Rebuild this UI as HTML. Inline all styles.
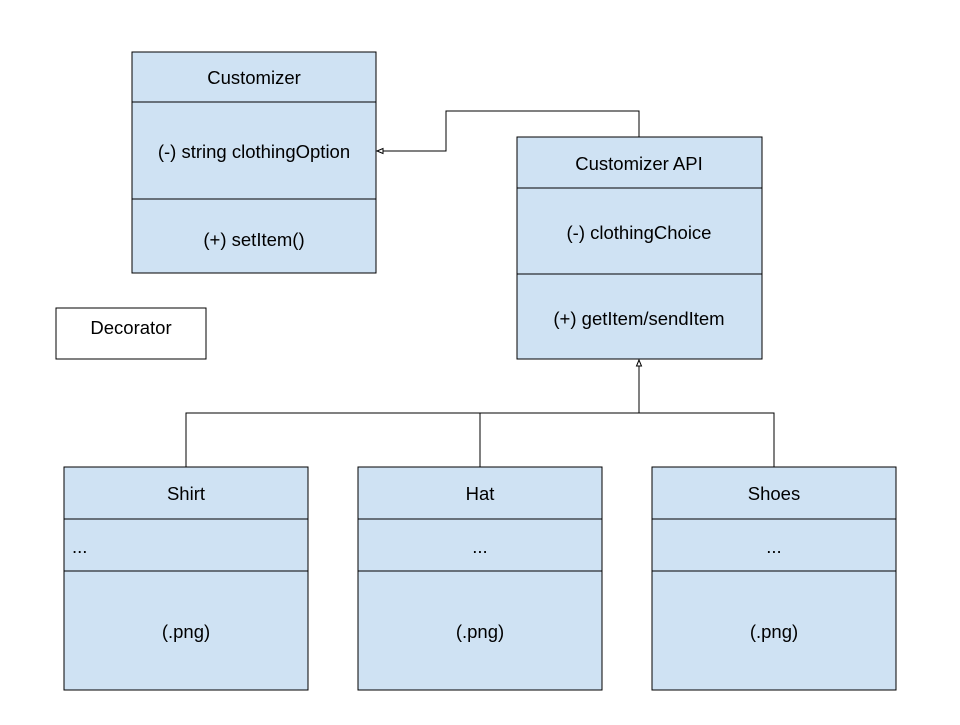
<!DOCTYPE html>
<html><head><style>body{margin:0;background:#fff}</style></head><body>
<svg width="960" height="720" xmlns="http://www.w3.org/2000/svg" font-family="Liberation Sans, Arial, sans-serif" font-size="18.5" fill="#000">
<g stroke="#000" stroke-width="1">
<rect x="132" y="52" width="244" height="221" fill="#cfe2f3"/>
<line x1="132" y1="102" x2="376" y2="102"/><line x1="132" y1="199" x2="376" y2="199"/>
<rect x="517" y="137" width="245" height="222" fill="#cfe2f3"/>
<line x1="517" y1="188" x2="762" y2="188"/><line x1="517" y1="274" x2="762" y2="274"/>
<rect x="56" y="308" width="150" height="51" fill="#fff"/>
<rect x="64" y="467" width="244" height="223" fill="#cfe2f3"/>
<line x1="64" y1="519" x2="308" y2="519"/><line x1="64" y1="571" x2="308" y2="571"/>
<rect x="358" y="467" width="244" height="223" fill="#cfe2f3"/>
<line x1="358" y1="519" x2="602" y2="519"/><line x1="358" y1="571" x2="602" y2="571"/>
<rect x="652" y="467" width="244" height="223" fill="#cfe2f3"/>
<line x1="652" y1="519" x2="896" y2="519"/><line x1="652" y1="571" x2="896" y2="571"/>
<polyline points="639,137 639,111 446,111 446,151 382,151" fill="none"/>
<polygon points="377,151 383,148.5 383,153.5" fill="#fff"/>
<polyline points="186,467 186,413 774,413 774,467" fill="none"/>
<line x1="480" y1="413" x2="480" y2="467"/>
<line x1="639" y1="413" x2="639" y2="365"/>
<polygon points="639,360 636.5,366 641.5,366" fill="#fff"/>
</g>
<g text-anchor="middle">
<text x="254" y="84">Customizer</text>
<text x="254" y="158">(-) string clothingOption</text>
<text x="254" y="246">(+) setItem()</text>
<text x="639" y="170">Customizer API</text>
<text x="639" y="239">(-) clothingChoice</text>
<text x="639" y="325">(+) getItem/sendItem</text>
<text x="131" y="334">Decorator</text>
<text x="186" y="500">Shirt</text>
<text x="480" y="500">Hat</text>
<text x="774" y="500">Shoes</text>
<text x="480" y="553">...</text>
<text x="774" y="553">...</text>
<text x="186" y="638">(.png)</text>
<text x="480" y="638">(.png)</text>
<text x="774" y="638">(.png)</text>
</g>
<text x="72" y="553">...</text>
</svg>
</body></html>
